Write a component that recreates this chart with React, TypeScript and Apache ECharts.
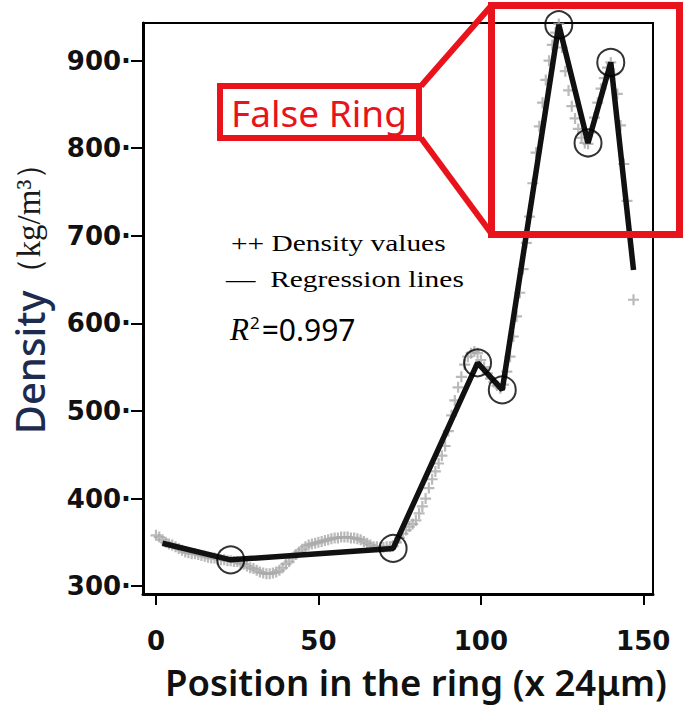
import React, { useEffect, useRef } from "react";
import * as echarts from "echarts";

const xTicks = [0, 50, 100, 150];
const yTicks = [300, 400, 500, 600, 700, 800, 900];

const densityPositions = [
  0, 1, 2, 3, 4, 5, 6, 7, 8, 9, 10, 11, 12, 13, 14, 15, 16, 17, 18, 19,
  20, 21, 22, 23, 24, 25, 26, 27, 28, 29, 30, 31, 32, 33, 34, 35, 36, 37, 38, 39,
  40, 41, 42, 43, 44, 45, 46, 47, 48, 49, 50, 51, 52, 53, 54, 55, 56, 57, 58, 59,
  60, 61, 62, 63, 64, 65, 66, 67, 68, 69, 70, 71, 72, 73, 74, 75, 76, 77, 78, 79,
  80, 81, 82, 83, 84, 85, 86, 87, 88, 89, 90, 91, 92, 93, 94, 95, 96, 97, 98, 99,
  100, 101, 102, 103, 104, 105, 106, 107, 108, 109, 110, 111, 112, 113, 114, 115, 116, 117, 118, 119,
  120, 121, 122, 123, 124, 125, 126, 127, 128, 129, 130, 131, 132, 133, 134, 135, 136, 137, 138, 139,
  140, 141, 142, 143, 144, 145, 146, 147,
];
const densityValues = [
  358, 356, 353, 350, 348, 347, 345, 343, 341, 339, 338, 337, 337, 336, 335, 334, 333, 332, 332, 331,
  330, 330, 329, 329, 328, 328, 326, 325, 323, 321, 320, 318, 316, 315, 314, 314, 315, 316, 318, 321,
  325, 328, 332, 336, 339, 342, 345, 347, 348, 349, 350, 351, 352, 353, 354, 355, 355, 356, 356, 356,
  355, 355, 354, 353, 351, 349, 347, 345, 345, 344, 344, 345, 345, 346, 350, 355, 360, 364, 368, 371,
  375, 383, 391, 400, 412, 422, 431, 440, 449, 460, 477, 495, 512, 527, 539, 553, 562, 566, 568, 566,
  558, 550, 543, 537, 533, 529, 526, 530, 545, 562, 585, 608, 635, 662, 692, 722, 760, 795, 825, 852,
  878, 900, 918, 932, 942, 915, 888, 866, 848, 834, 822, 812, 806, 805, 818, 835, 852, 868, 880, 892,
  898, 885, 862, 826, 782, 740, 700, 627,
];

const regressionPositions = [2, 23, 73, 99, 106.6, 124, 133, 140, 147];
const regressionValues = [349, 330, 343, 555, 524, 941, 806, 898, 661];

const breakpointPositions = [23, 73, 99, 106.6, 124, 133, 140];
const breakpointValues = [330, 343, 555, 524, 941, 806, 898];

const PLUS = "path://M4,0H6V4H10V6H6V10H4V6H0V4H4Z";
const RED = "#e8131b";

export default function App() {
  const ref = useRef<HTMLDivElement>(null);
  useEffect(() => {
    if (!ref.current) return;
    const chart = echarts.init(ref.current, undefined, { renderer: "svg" });
    const tickFont = {
      fontFamily: "DejaVu Sans",
      fontWeight: "bold" as const,
      fontSize: 26,
      color: "#111",
    };
    chart.setOption({
      animation: false,
      backgroundColor: "#fff",
      grid: {
        left: 143,
        top: 23,
        right: 32,
        bottom: 115,
        show: true,
        borderColor: "#000",
        borderWidth: 2,
        containLabel: false,
      },
      xAxis: {
        type: "value",
        min: -4,
        max: 153,
        name: "Position in the ring (x 24\u03bcm)",
        nameLocation: "middle",
        nameGap: 69,
        nameTextStyle: {
          fontFamily: "Noto Sans",
          fontWeight: 600,
          fontSize: 36.5,
          color: "#111",
          padding: [0, 0, 0, 36],
        },
        axisLine: { onZero: false, lineStyle: { color: "#000", width: 3 } },
        axisTick: {
          show: true,
          length: 11,
          customValues: xTicks,
          lineStyle: { color: "#000", width: 2 },
        },
        axisLabel: { ...tickFont, margin: 34, customValues: xTicks },
        splitLine: { show: false },
      },
      yAxis: {
        type: "value",
        min: 291,
        max: 943,
        name: "{a|Density}{b|\uff08kg/m\u00b3\uff09}",
        nameLocation: "middle",
        nameRotate: 90,
        nameGap: 94,
        nameTextStyle: {
          padding: [0, 0, 0, 36],
          rich: {
            a: {
              fontFamily: "Noto Sans",
              fontWeight: 500,
              fontSize: 40,
              color: "#1d2b4f",
            },
            b: {
              fontFamily: "Liberation Serif",
              fontSize: 33,
              color: "#1a1a1a",
            },
          },
        },
        axisLine: { onZero: false, lineStyle: { color: "#000", width: 3 } },
        axisTick: {
          show: true,
          length: 12,
          customValues: yTicks,
          lineStyle: { color: "#000", width: 2 },
        },
        axisLabel: {
          ...tickFont,
          margin: 12,
          customValues: yTicks,
          formatter: (v: number) => `${v}\u00b7`,
        },
        splitLine: { show: false },
      },
      series: [
        {
          name: "Density values",
          type: "scatter",
          data: densityPositions.map((x, i) => [x, densityValues[i]]),
          symbol: PLUS,
          symbolSize: 11,
          itemStyle: { color: "#a9a9a9" },
          z: 2,
        },
        {
          name: "Regression lines",
          type: "line",
          data: regressionPositions.map((x, i) => [x, regressionValues[i]]),
          symbol: "none",
          lineStyle: { color: "#111", width: 5.5 },
          z: 3,
        },
        {
          name: "Breakpoints",
          type: "scatter",
          data: breakpointPositions.map((x, i) => [x, breakpointValues[i]]),
          symbol: "circle",
          symbolSize: 27,
          itemStyle: { color: "rgba(0,0,0,0)", borderColor: "#000", borderWidth: 2 },
          z: 4,
        },
      ],
      graphic: [
        {
          type: "text",
          left: 231,
          top: 232,
          scaleX: 1.28,
          style: {
            text: "++ Density values",
            fontFamily: "Liberation Serif",
            fontSize: 23,
            fill: "#000",
          },
        },
        {
          type: "text",
          left: 226,
          top: 268,
          scaleX: 1.28,
          style: {
            text: "\u2014  Regression lines",
            fontFamily: "Liberation Serif",
            fontSize: 23,
            fill: "#000",
          },
        },
        {
          type: "text",
          left: 230,
          top: 314,
          style: {
            text: "{r|R}{s|2}{e|=0.997}",
            rich: {
              r: {
                fontFamily: "Liberation Serif",
                fontStyle: "italic",
                fontSize: 31,
                color: "#3a2a14",
              },
              s: {
                fontFamily: "Noto Sans",
                fontSize: 17,
                color: "#222",
                verticalAlign: "top",
                padding: [0, 2, 14, 1],
              },
              e: {
                fontFamily: "Noto Sans",
                fontSize: 30,
                color: "#1c2230",
              },
            },
          },
        },
        {
          type: "rect",
          shape: { x: 220, y: 86, width: 199, height: 52 },
          style: { fill: "#fff", stroke: RED, lineWidth: 6 },
          z: 10,
        },
        {
          type: "text",
          x: 319,
          y: 112,
          style: {
            text: "False Ring",
            fontFamily: "Noto Sans",
            fontSize: 37,
            fill: RED,
            align: "center",
            verticalAlign: "middle",
          },
          z: 11,
        },
        {
          type: "rect",
          shape: { x: 491.5, y: 5.5, width: 188, height: 229 },
          style: { fill: "none", stroke: RED, lineWidth: 7 },
          z: 10,
        },
        {
          type: "line",
          shape: { x1: 421, y1: 86, x2: 491, y2: 6 },
          style: { stroke: RED, lineWidth: 6 },
          z: 10,
        },
        {
          type: "line",
          shape: { x1: 421, y1: 138, x2: 491, y2: 233 },
          style: { stroke: RED, lineWidth: 6 },
          z: 10,
        },
      ],
    });
    return () => chart.dispose();
  }, []);
  return (
    <div
      ref={ref}
      style={{ position: "absolute", left: 0, top: 0, width: 685, height: 709 }}
    />
  );
}
